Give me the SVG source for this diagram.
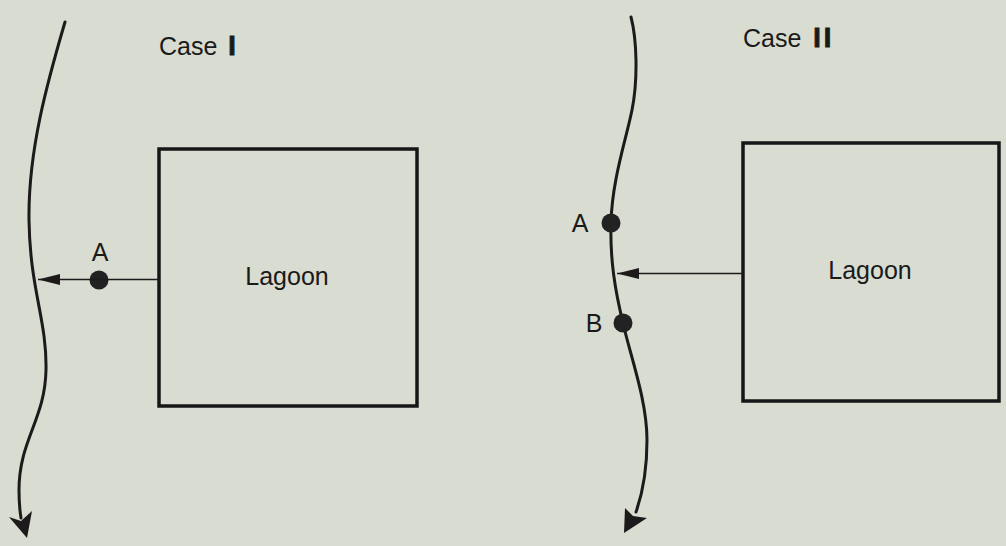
<svg xmlns="http://www.w3.org/2000/svg" width="1006" height="546" viewBox="0 0 1006 546">
<defs>
<style>
.bg{fill:#d9dcd0}
.river{fill:none;stroke:#1c1a1a;stroke-width:3;stroke-linecap:round}
.head{fill:#1c1a1a}
.box{fill:none;stroke:#161616;stroke-width:3.5}
.conn{stroke:#1c1a1a;stroke-width:1.6}
.dot{fill:#222}
.t{font-family:"Liberation Sans",Arial,sans-serif;font-size:25px;fill:#1a1a1a}
.num{font-weight:bold;font-size:27px;stroke:#1a1a1a;stroke-width:0.9;letter-spacing:3px}
</style>
<marker id="arr" markerUnits="userSpaceOnUse" markerWidth="24" markerHeight="12" refX="22" refY="5.5" orient="auto">
<path d="M0,0 L22,5.5 L0,11 Z" fill="#1c1a1a"/>
</marker>
</defs>
<rect class="bg" x="0" y="0" width="1006" height="546"/>

<g id="case1-label"><text class="t" x="159" y="55">Case <tspan class="num" dx="4">I</tspan></text></g>
<g id="case2-label"><text class="t" x="743" y="47">Case <tspan class="num" dx="5">II</tspan></text></g>

<g id="river1">
<path class="river" d="M65,22 C48,80 28,150 29,220 C30,290 47,320 46,370 C45,420 19,440 19,490 C19,505 20,512 21,518"/>
<path class="head" d="M27,538 L9,517 L21,521 L32,511 Z"/>
</g>

<g id="river2">
<path class="river" d="M631,17 C637,40 638,80 632,110 C626,140 612,180 611,223 C610,260 615,290 623,323 C630,355 647,400 647,440 C647,475 642,495 636,512"/>
<path class="head" d="M624,533 L625,508 L633,516 L647,518 Z"/>
</g>

<g id="lagoon1">
<rect class="box" x="159" y="149" width="258" height="257"/>
<text class="t" x="287" y="285" text-anchor="middle">Lagoon</text>
</g>

<g id="lagoon2">
<rect class="box" x="743" y="143" width="256" height="258"/>
<text class="t" x="870" y="279" text-anchor="middle">Lagoon</text>
</g>

<g id="pointA1">
<circle class="dot" cx="99" cy="280" r="9.5"/>
<text class="t" x="100" y="261" text-anchor="middle">A</text>
</g>

<g id="pointA2">
<circle class="dot" cx="611" cy="223" r="9.5"/>
<text class="t" x="580" y="232" text-anchor="middle">A</text>
</g>

<g id="pointB2">
<circle class="dot" cx="623" cy="323" r="9.5"/>
<text class="t" x="594" y="332" text-anchor="middle">B</text>
</g>

<g id="connectors">
<line class="conn" x1="159" y1="279.5" x2="38" y2="279.5" marker-end="url(#arr)"/>
<line class="conn" x1="743" y1="273.5" x2="617" y2="273.5" marker-end="url(#arr)"/>
</g>
</svg>
